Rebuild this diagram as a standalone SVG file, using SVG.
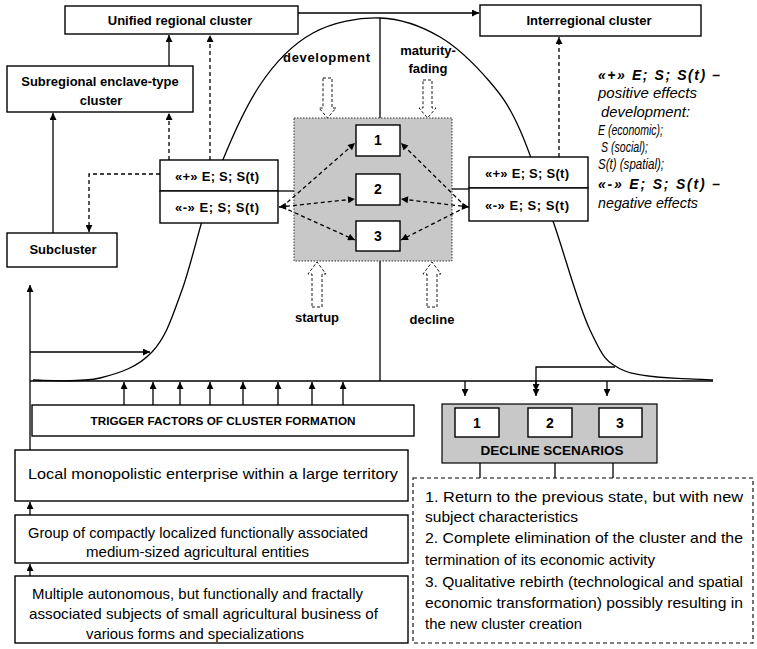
<svg xmlns="http://www.w3.org/2000/svg" width="757" height="649" viewBox="0 0 757 649">
<style>
  .box{fill:#fff;stroke:#000;stroke-width:1.4}
  .gray{fill:#c8c8c8;stroke:#000;stroke-width:1.2}
  .ln{fill:none;stroke:#000;stroke-width:1.3}
  .dash{fill:none;stroke:#000;stroke-width:1.3;stroke-dasharray:4,3}
  .hollow{fill:#fff;stroke:#000;stroke-width:0.9;stroke-dasharray:3,2}
  text{font-family:"Liberation Sans",Arial,sans-serif;fill:#000}
  .b{font-weight:bold;font-size:13px}
  .c{text-anchor:middle}
  .r{font-size:15px}
  .it{font-style:italic;font-size:14.5px}
  .itb{font-style:italic;font-weight:bold;font-size:14px}
  .its{font-style:italic;font-size:14px}
</style>
<defs>
  <marker id="ah" viewBox="0 0 10 10" refX="10" refY="5" markerWidth="8" markerHeight="7" markerUnits="userSpaceOnUse" orient="auto-start-reverse">
    <path d="M0,0 L10,5 L0,10 z" fill="#000"/>
  </marker>
</defs>

<!-- curve and axes -->
<g id="chart">
  <path class="ln" d="M33,380 C44,380 80,383 100,378 C120,373 138,367 152,352 C166,337 171.5,319 182,290 C192.5,261 202,214 215,180 C228,146 243.7,109.5 260,85 C276.3,60.5 293,44 313,33 C333,22 359,17.3 380,18 C401,18.7 421.7,26.3 440,37 C458.3,47.7 476.7,66.5 490,82 C503.3,97.5 509.5,106.8 520,130 C530.5,153.2 541.3,187.7 553,221 C564.7,254.3 578,305 590,330 C602,355 604.5,362.7 625,371 C645.5,379.3 698,378.5 713,380"/>
  <line class="ln" x1="30" y1="381" x2="713" y2="381"/>
  <line class="ln" x1="380" y1="18" x2="380" y2="381"/>
</g>

<g id="unified">
  <rect class="box" x="65" y="6" width="233" height="28"/>
  <text class="b c" x="180" y="25">Unified regional cluster</text>
</g>
<g id="interregional">
  <rect class="box" x="480" y="5" width="221" height="31"/>
  <text class="b c" x="589" y="25">Interregional cluster</text>
</g>
<g id="subregional">
  <rect class="box" x="7" y="66" width="186" height="46"/>
  <text class="b c" x="100" y="86">Subregional enclave-type</text>
  <text class="b c" x="101" y="105">cluster</text>
</g>
<g id="subcluster">
  <rect class="box" x="7" y="233" width="110" height="34"/>
  <text class="b c" x="63" y="254">Subcluster</text>
</g>
<g id="effects-left">
  <rect class="box" x="160" y="160" width="118" height="31"/>
  <rect class="box" x="160" y="191" width="118" height="32"/>
  <text class="b c" x="217" y="181" textLength="84">«+» E; S; S(t)</text>
  <text class="b c" x="217" y="212" textLength="84">«-» E; S; S(t)</text>
</g>
<g id="effects-right">
  <rect class="box" x="469" y="157" width="119" height="31"/>
  <rect class="box" x="469" y="188" width="119" height="33"/>
  <text class="b c" x="527" y="178" textLength="84">«+» E; S; S(t)</text>
  <text class="b c" x="527" y="210" textLength="84">«-» E; S; S(t)</text>
</g>
<g id="stages">
  <rect x="294" y="118" width="158" height="143" fill="#c8c8c8" stroke="#333" stroke-width="1" stroke-dasharray="1.5,1.5"/>
  <rect class="box" x="356" y="125" width="44" height="31"/>
  <rect class="box" x="356" y="174" width="44" height="31"/>
  <rect class="box" x="356" y="221" width="44" height="30"/>
  <text class="b c" x="378" y="145" style="font-size:14px">1</text>
  <text class="b c" x="378" y="194" style="font-size:14px">2</text>
  <text class="b c" x="378" y="241" style="font-size:14px">3</text>
</g>
<g id="stage-labels">
  <text class="b" x="283" y="62" textLength="87">development</text>
  <text class="b c" x="428" y="55">maturity-</text>
  <text class="b c" x="428" y="73">fading</text>
  <text class="b c" x="317" y="322">startup</text>
  <text class="b c" x="432" y="324">decline</text>
</g>
<g id="legend">
  <text class="itb" x="598" y="80" textLength="122" lengthAdjust="spacing">«+»  E;  S;  S(t)  –</text>
  <text class="it" x="598" y="98" textLength="99" lengthAdjust="spacingAndGlyphs">positive effects</text>
  <text class="it" x="601" y="117" textLength="89" lengthAdjust="spacingAndGlyphs">development:</text>
  <text class="its" x="598" y="135" textLength="65" lengthAdjust="spacingAndGlyphs">E (economic);</text>
  <text class="its" x="601" y="152" textLength="47" lengthAdjust="spacingAndGlyphs">S (social);</text>
  <text class="its" x="598" y="169" textLength="66" lengthAdjust="spacingAndGlyphs">S(t) (spatial);</text>
  <text class="itb" x="598" y="189" textLength="122" lengthAdjust="spacing">«-»  E;  S;  S(t)  –</text>
  <text class="it" x="598" y="208" textLength="100" lengthAdjust="spacingAndGlyphs">negative effects</text>
</g>
<g id="trigger">
  <rect class="box" x="32" y="405" width="382" height="31"/>
  <text class="b c" x="223" y="425" style="font-size:11.7px" textLength="265">TRIGGER FACTORS OF CLUSTER FORMATION</text>
</g>
<g id="local">
  <rect class="box" x="15" y="450" width="393" height="51"/>
  <text class="r" x="28" y="479" textLength="370" lengthAdjust="spacingAndGlyphs">Local monopolistic enterprise within a large territory</text>
</g>
<g id="group">
  <rect class="box" x="15" y="515" width="393" height="48"/>
  <text class="r" x="28" y="538" textLength="340" lengthAdjust="spacingAndGlyphs">Group of compactly localized functionally associated</text>
  <text class="r" x="86" y="557" textLength="223" lengthAdjust="spacingAndGlyphs">medium-sized agricultural entities</text>
</g>
<g id="multiple">
  <rect class="box" x="15" y="576" width="393" height="67"/>
  <text class="r" x="32" y="599" textLength="331" lengthAdjust="spacingAndGlyphs">Multiple autonomous, but functionally and fractally</text>
  <text class="r" x="29" y="619" textLength="349" lengthAdjust="spacingAndGlyphs">associated subjects of small agricultural business of</text>
  <text class="r" x="86" y="639" textLength="218" lengthAdjust="spacingAndGlyphs">various forms and specializations</text>
</g>
<g id="decline-scenarios">
  <rect class="gray" x="442" y="404" width="215" height="59"/>
  <rect class="box" x="455" y="408" width="44" height="29"/>
  <rect class="box" x="528" y="408" width="44" height="29"/>
  <rect class="box" x="599" y="408" width="43" height="29"/>
  <text class="b c" x="477" y="428" style="font-size:14px">1</text>
  <text class="b c" x="550" y="428" style="font-size:14px">2</text>
  <text class="b c" x="620" y="428" style="font-size:14px">3</text>
  <text class="b c" x="552" y="455" style="font-size:13.5px" textLength="143">DECLINE SCENARIOS</text>
</g>
<g id="scenario-list">
  <rect x="413" y="478" width="340" height="165" fill="#fff" stroke="#000" stroke-width="1.1" stroke-dasharray="4,3"/>
  <text class="r" x="425" y="502" textLength="318" lengthAdjust="spacingAndGlyphs">1. Return to the previous state, but with new</text>
  <text class="r" x="425" y="522" textLength="153" lengthAdjust="spacingAndGlyphs">subject characteristics</text>
  <text class="r" x="425" y="543" textLength="318" lengthAdjust="spacingAndGlyphs">2. Complete elimination of the cluster and the</text>
  <text class="r" x="425" y="565" textLength="230" lengthAdjust="spacingAndGlyphs">termination of its economic activity</text>
  <text class="r" x="425" y="587" textLength="318" lengthAdjust="spacingAndGlyphs">3. Qualitative rebirth (technological and spatial</text>
  <text class="r" x="425" y="608" textLength="318" lengthAdjust="spacingAndGlyphs">economic transformation) possibly resulting in</text>
  <text class="r" x="425" y="629" textLength="157" lengthAdjust="spacingAndGlyphs">the new cluster creation</text>
</g>

<g id="connectors">
  <line class="ln" x1="30" y1="450" x2="30" y2="285" marker-end="url(#ah)"/>
  <line class="ln" x1="30" y1="352" x2="150" y2="352" marker-end="url(#ah)"/>
  <line class="ln" x1="298" y1="13" x2="479" y2="13" marker-end="url(#ah)"/>
  <line class="ln" x1="169" y1="66" x2="169" y2="35" marker-end="url(#ah)"/>
  <line class="ln" x1="53" y1="233" x2="53" y2="113" marker-end="url(#ah)"/>
  <line class="dash" x1="169" y1="160" x2="169" y2="113" marker-end="url(#ah)"/>
  <line class="dash" x1="210" y1="160" x2="210" y2="35" marker-end="url(#ah)"/>
  <path class="dash" d="M160,174 H89 V232" marker-end="url(#ah)"/>
  <line class="dash" x1="559" y1="157" x2="559" y2="37" marker-end="url(#ah)"/>
  <line class="ln" x1="278" y1="191" x2="294" y2="191"/>
  <line class="ln" x1="452" y1="189" x2="469" y2="189"/>
  <!-- left dashed arrows -->
  <line class="dash" x1="282" y1="207" x2="355" y2="143" marker-end="url(#ah)"/>
  <line class="dash" x1="279" y1="207" x2="355" y2="199" marker-start="url(#ah)" marker-end="url(#ah)"/>
  <line class="dash" x1="282" y1="207" x2="355" y2="240" marker-end="url(#ah)"/>
  <!-- right dashed arrows -->
  <line class="dash" x1="466" y1="207" x2="401" y2="143" marker-end="url(#ah)"/>
  <line class="dash" x1="469" y1="207" x2="401" y2="199" marker-start="url(#ah)" marker-end="url(#ah)"/>
  <line class="dash" x1="466" y1="207" x2="401" y2="240" marker-end="url(#ah)"/>
  <!-- hollow block arrows -->
  <path class="hollow" d="M323,78 H332 V108 H336 L327.5,118 L319,108 H323 Z"/>
  <path class="hollow" d="M423,80 H432 V108 H436 L427.5,118 L419,108 H423 Z"/>
  <path class="hollow" d="M312,307 H322 V274 H326 L317,262 L308,274 H312 Z"/>
  <path class="hollow" d="M427,307 H437 V274 H441 L432,262 L423,274 H427 Z"/>
  <!-- trigger arrows -->
  <line class="ln" x1="124" y1="405" x2="124" y2="382" marker-end="url(#ah)"/>
  <line class="ln" x1="153" y1="405" x2="153" y2="382" marker-end="url(#ah)"/>
  <line class="ln" x1="180" y1="405" x2="180" y2="382" marker-end="url(#ah)"/>
  <line class="ln" x1="210" y1="405" x2="210" y2="382" marker-end="url(#ah)"/>
  <line class="ln" x1="243" y1="405" x2="243" y2="382" marker-end="url(#ah)"/>
  <line class="ln" x1="278" y1="405" x2="278" y2="382" marker-end="url(#ah)"/>
  <line class="ln" x1="312" y1="405" x2="312" y2="382" marker-end="url(#ah)"/>
  <line class="ln" x1="343" y1="405" x2="343" y2="382" marker-end="url(#ah)"/>
  <!-- decline arrows -->
  <line class="ln" x1="465" y1="381" x2="465" y2="396" marker-end="url(#ah)"/>
  <line class="ln" x1="607" y1="381" x2="607" y2="396" marker-end="url(#ah)"/>
  <path class="ln" d="M615,367 H536 V396" marker-end="url(#ah)"/>
  <line class="ln" x1="536" y1="381" x2="536" y2="391" marker-end="url(#ah)"/>
  <line class="ln" x1="480" y1="463" x2="480" y2="478"/>
  <line class="ln" x1="555" y1="463" x2="555" y2="478"/>
  <line class="ln" x1="613" y1="463" x2="613" y2="478"/>
  <!-- bottom left arrows -->
  <line class="ln" x1="30" y1="515" x2="30" y2="502" marker-end="url(#ah)"/>
  <line class="ln" x1="30" y1="576" x2="30" y2="564" marker-end="url(#ah)"/>
</g>
</svg>
